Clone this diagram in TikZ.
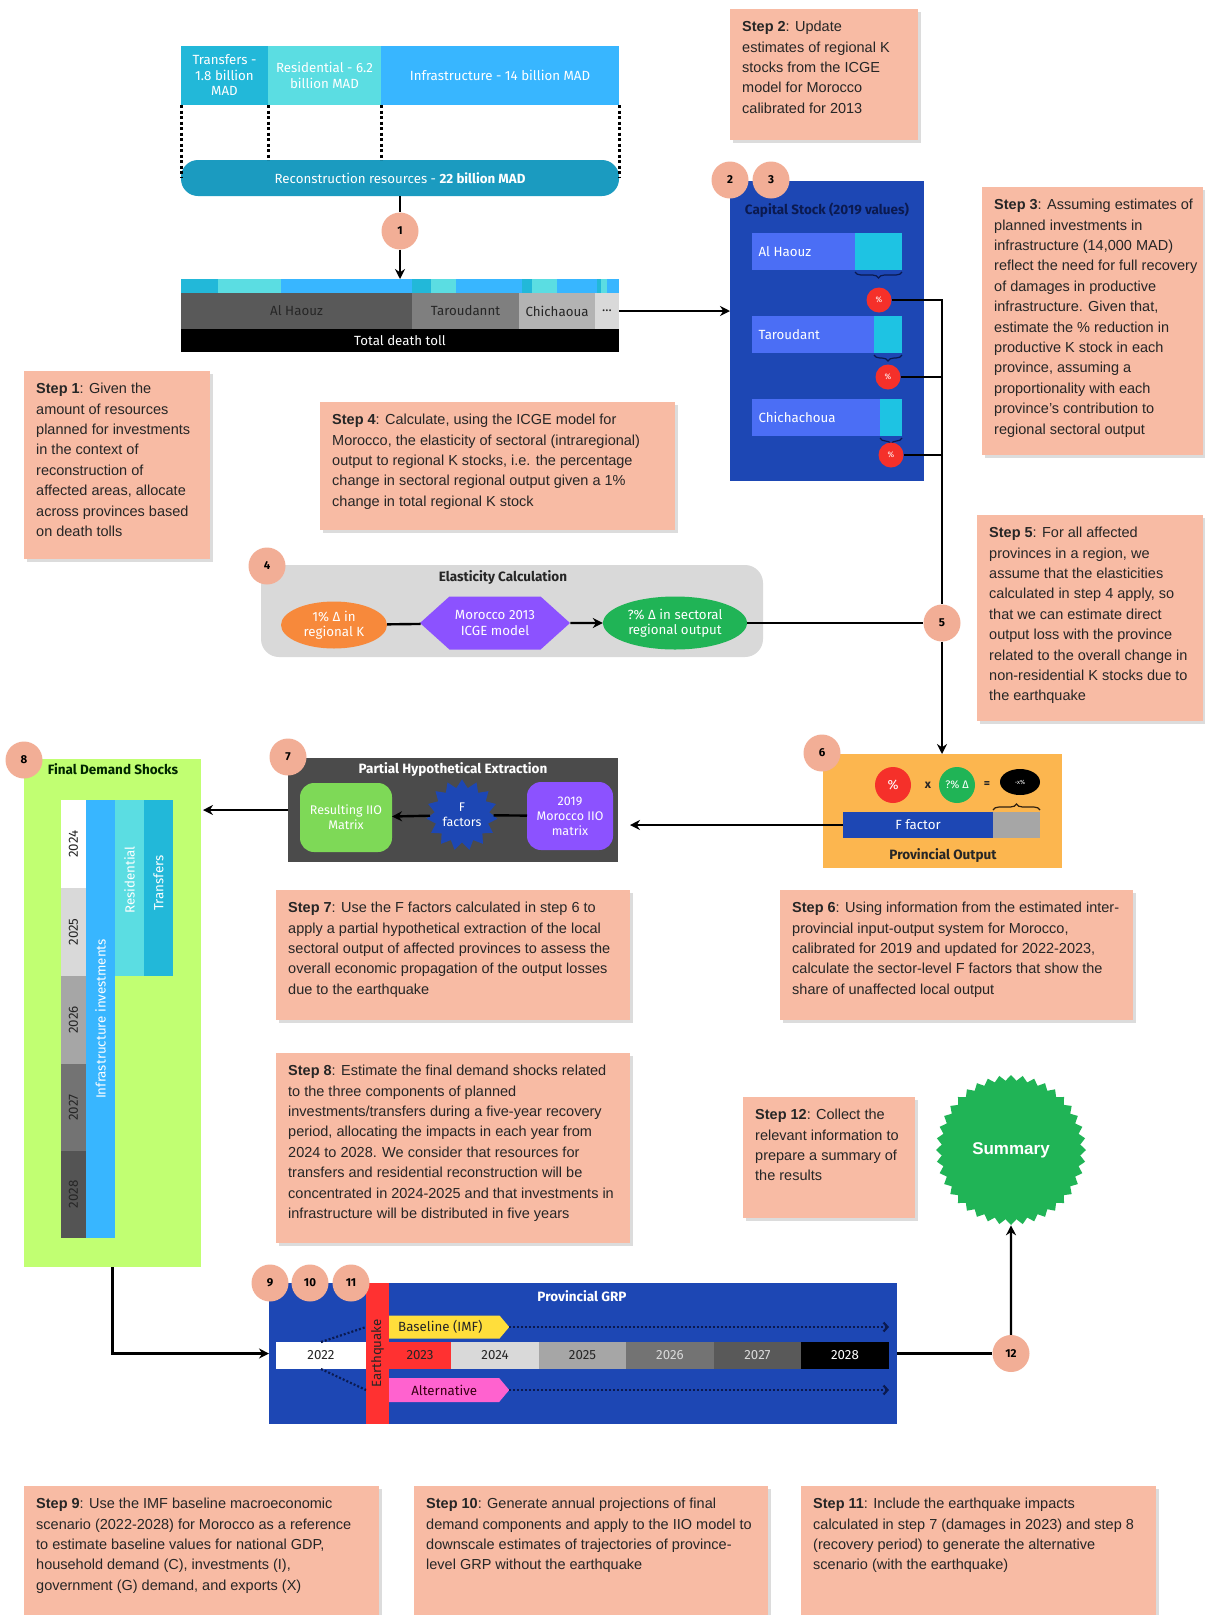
\documentclass[tikz,border=0pt]{standalone}
\usepackage{fontspec}
\setmainfont{Liberation Sans}
\newfontfamily\labfont{Fira Sans}
\usetikzlibrary{shapes.geometric,shapes.symbols,arrows.meta,decorations.pathreplacing,shadows,calc}
\definecolor{stepc}{HTML}{F8BBA4}
\definecolor{badgec}{HTML}{F2AE96}
\definecolor{transc}{HTML}{22B8D9}
\definecolor{resc}{HTML}{5BDDE2}
\definecolor{infrac}{HTML}{38B6FF}
\definecolor{pillc}{HTML}{1B9BC0}
\definecolor{royal}{HTML}{1D47B4}
\definecolor{navy}{HTML}{0B1A50}
\definecolor{barblue}{HTML}{4B6EF5}
\definecolor{barcyan}{HTML}{1EC3E3}
\definecolor{redc}{HTML}{F5302A}
\definecolor{gboxc}{HTML}{D9D9D9}
\definecolor{orangec}{HTML}{F7893B}
\definecolor{purplec}{HTML}{8C52FF}
\definecolor{greenc}{HTML}{20B456}
\definecolor{provc}{HTML}{FCB64F}
\definecolor{phec}{HTML}{4B4B4B}
\definecolor{limec}{HTML}{7ED957}
\definecolor{fdsc}{HTML}{C1FF72}
\definecolor{quakec}{HTML}{FF3131}
\definecolor{yellowc}{HTML}{FFDE3B}
\definecolor{pinkc}{HTML}{FF62CF}
\definecolor{textc}{HTML}{262626}
\definecolor{gA}{HTML}{595959}
\definecolor{gB}{HTML}{7F7F7F}
\definecolor{gC}{HTML}{B3B3B3}
\definecolor{gD}{HTML}{D9D9D9}
\definecolor{gE}{HTML}{A6A6A6}
\definecolor{gF}{HTML}{737373}
\definecolor{gG}{HTML}{545454}
\begin{document}
\begin{tikzpicture}[x=1pt,y=-1pt,
  R/.style n args={4}{rectangle, inner sep=0pt, outer sep=0pt, minimum width={#3-#1}, minimum height={#4-#2}, at={({(#1+#3)/2},{(#2+#4)/2})}},
  stepbox/.style={fill=stepc, drop shadow={shadow xshift=2.5pt, shadow yshift=-2.5pt, opacity=.3, fill=black!45}},
  steptext/.style={anchor=north west, align=left, inner sep=0pt, text=textc, font=\fontsize{14.5}{20.4}\selectfont},
  badge/.style={circle, fill=badgec, minimum size=37pt, inner sep=0pt, font=\labfont\bfseries\fontsize{11.5}{12}\selectfont, text=black},
  lab/.style={font=\labfont\fontsize{13.3}{15.5}\selectfont, align=center, text=white},
  dlab/.style={font=\labfont\fontsize{13.3}{15.5}\selectfont, align=center, text=textc},
  slab/.style={font=\labfont\fontsize{12.5}{15}\selectfont, align=center, text=white},
  titlef/.style={font=\labfont\bfseries\fontsize{13.5}{15}\selectfont},
  conn/.style={line width=2.4pt, black},
  arr/.style={conn, -{Stealth[length=10pt,width=10pt]}},
  pct/.style={circle, fill=redc, minimum size=25pt, inner sep=0pt, font=\labfont\fontsize{8}{9}\selectfont, text=white},
  dotline/.style={line width=3pt, black, dash pattern=on 3pt off 2.5pt},
  dotnavy/.style={line width=2.2pt, navy, dash pattern=on 2pt off 2pt},
  capbrace/.style={decorate, decoration={brace, mirror, amplitude=6pt}, line width=1.2pt, navy},
]
\useasboundingbox (0,0) rectangle (1205,1615);
\fill[white] (0,0) rectangle (1205,1615);

% ---------- step boxes ----------
\node[R={24}{371}{210}{559}, stepbox] (s1) {};
\node[steptext] (t1) at ([shift={(12,12)}]s1.north west) {\textbf{Step 1}: Given the\\amount of resources\\planned for investments\\in the context of\\reconstruction of\\affected areas, allocate\\across provinces based\\on death tolls};
\node[R={730}{9}{918}{140}, stepbox] (s2) {};
\node[steptext] (t2) at ([shift={(12,12)}]s2.north west) {\textbf{Step 2}: Update\\estimates of regional K\\stocks from the ICGE\\model for Morocco\\calibrated for 2013};
\node[R={982}{187}{1203}{455}, stepbox] (s3) {};
\node[steptext] (t3) at ([shift={(12,12)}]s3.north west) {\textbf{Step 3}: Assuming estimates of\\planned investments in\\infrastructure (14,000 MAD)\\reflect the need for full recovery\\of damages in productive\\infrastructure. Given that,\\estimate the \% reduction in\\productive K stock in each\\province, assuming a\\proportionality with each\\province's contribution to\\regional sectoral output};
\node[R={320}{402}{675}{530}, stepbox] (s4) {};
\node[steptext] (t4) at ([shift={(12,12)}]s4.north west) {\textbf{Step 4}: Calculate, using the ICGE model for\\Morocco, the elasticity of sectoral (intraregional)\\output to regional K stocks, i.e. the percentage\\change in sectoral regional output given a 1\%\\change in total regional K stock};
\node[R={977}{515}{1203}{721}, stepbox] (s5) {};
\node[steptext] (t5) at ([shift={(12,12)}]s5.north west) {\textbf{Step 5}: For all affected\\provinces in a region, we\\assume that the elasticities\\calculated in step 4 apply, so\\that we can estimate direct\\output loss with the province\\related to the overall change in\\non-residential K stocks due to\\the earthquake};
\node[R={780}{890}{1133}{1020}, stepbox] (s6) {};
\node[steptext] (t6) at ([shift={(12,12)}]s6.north west) {\textbf{Step 6}: Using information from the estimated inter-\\provincial input-output system for Morocco,\\calibrated for 2019 and updated for 2022-2023,\\calculate the sector-level F factors that show the\\share of unaffected local output};
\node[R={276}{890}{630}{1020}, stepbox] (s7) {};
\node[steptext] (t7) at ([shift={(12,12)}]s7.north west) {\textbf{Step 7}: Use the F factors calculated in step 6 to\\apply a partial hypothetical extraction of the local\\sectoral output of affected provinces to assess the\\overall economic propagation of the output losses\\due to the earthquake};
\node[R={276}{1053}{630}{1243}, stepbox] (s8) {};
\node[steptext] (t8) at ([shift={(12,12)}]s8.north west) {\textbf{Step 8}: Estimate the final demand shocks related\\to the three components of planned\\investments/transfers during a five-year recovery\\period, allocating the impacts in each year from\\2024 to 2028. We consider that resources for\\transfers and residential reconstruction will be\\concentrated in 2024-2025 and that investments in\\infrastructure will be distributed in five years};
\node[R={743}{1097}{915}{1218}, stepbox] (s12) {};
\node[steptext] (t12) at ([shift={(12,12)}]s12.north west) {\textbf{Step 12}: Collect the\\relevant information to\\prepare a summary of\\the results};
\node[R={24}{1486}{379}{1615}, stepbox] (s9) {};
\node[steptext] (t9) at ([shift={(12,12)}]s9.north west) {\textbf{Step 9}: Use the IMF baseline macroeconomic\\scenario (2022-2028) for Morocco as a reference\\to estimate baseline values for national GDP,\\household demand (C), investments (I),\\government (G) demand, and exports (X)};
\node[R={414}{1486}{768}{1615}, stepbox] (s10) {};
\node[steptext] (t10) at ([shift={(12,12)}]s10.north west) {\textbf{Step 10}: Generate annual projections of final\\demand components and apply to the IIO model to\\downscale estimates of trajectories of province-\\level GRP without the earthquake};
\node[R={801}{1486}{1156}{1615}, stepbox] (s11) {};
\node[steptext] (t11) at ([shift={(12,12)}]s11.north west) {\textbf{Step 11}: Include the earthquake impacts\\calculated in step 7 (damages in 2023) and step 8\\(recovery period) to generate the alternative\\scenario (with the earthquake)};

% ---------- top: resources ----------
\node[R={181}{46}{268}{105}, fill=transc, lab] (tr) {Transfers -\\1.8 billion\\MAD};
\node[R={268}{46}{381}{105}, fill=resc, lab] (re) {Residential - 6.2\\billion MAD};
\node[R={381}{46}{619}{105}, fill=infrac, lab] (in) {Infrastructure - 14 billion MAD};
\node[R={181}{160}{619}{196}, fill=pillc, rounded corners=17pt, lab] (pill) {Reconstruction resources - \textbf{22 billion MAD}};
\draw[dotline] (tr.south west) -- (tr.south west |- pill.west);
\draw[dotline] (tr.south east) -- (tr.south east |- pill.north);
\draw[dotline] (re.south east) -- (re.south east |- pill.north);
\draw[dotline] (in.south east) -- (in.south east |- pill.west);

% death toll
\fill[transc] (181,279) rectangle (218,293);
\fill[resc] (218,279) rectangle (281,293);
\fill[infrac] (281,279) rectangle (412,293);
\fill[transc] (412,279) rectangle (431,293);
\fill[resc] (431,279) rectangle (456,293);
\fill[infrac] (456,279) rectangle (522,293);
\fill[transc] (522,279) rectangle (532,293);
\fill[resc] (532,279) rectangle (557,293);
\fill[infrac] (557,279) rectangle (597,293);
\fill[transc] (597,279) rectangle (601,293);
\fill[resc] (601,279) rectangle (607,293);
\fill[infrac] (607,279) rectangle (619,293);
\node[R={181}{279}{619}{293}] (strip) {};
\node[R={181}{293}{412}{329}, fill=gA, dlab] (alh) {Al Haouz};
\node[R={412}{293}{519}{329}, fill=gB, dlab] (tar) {Taroudannt};
\node[R={519}{293}{595}{329}, fill=gC, dlab] (chi) {Chichaoua};
\node[R={595}{293}{619}{329}, fill=gD, dlab] (dots) {...};
\node[R={181}{329}{619}{352}, fill=black, lab] (tot) {Total death toll};

\node[badge] (b1) at (400,231) {1};
\draw[conn] (pill.south) -- (b1);
\draw[arr] (b1) -- (strip.north);

% ---------- capital stock ----------
\node[R={730}{181}{924}{481}, fill=royal] (cap) {};
\node[titlef, text=navy] (capt) at (827,210) {Capital Stock (2019 values)};
\node[badge] (b2) at (730,180) {2};
\node[badge] (b3) at (771,180) {3};
\draw[arr] (dots.east) -- (dots.east -| cap.west);
\node[R={752}{233}{855}{270}, fill=barblue] (ahb) {};
\node[R={855}{233}{902}{270}, fill=barcyan] (ahc) {};
\node[R={752}{316}{874}{353}, fill=barblue] (tab) {};
\node[R={874}{316}{902}{353}, fill=barcyan] (tac) {};
\node[R={752}{399}{880}{436}, fill=barblue] (chb) {};
\node[R={880}{399}{902}{436}, fill=barcyan] (chc) {};
\node[lab, anchor=west] (ahl) at ([xshift=3pt]ahb.west) {Al Haouz};
\node[lab, anchor=west] (tal) at ([xshift=3pt]tab.west) {Taroudant};
\node[lab, anchor=west] (chl) at ([xshift=3pt]chb.west) {Chichachoua};
\draw[capbrace] ([yshift=-2pt]ahc.south west) -- ([yshift=-2pt]ahc.south east);
\draw[capbrace] ([yshift=-2pt]tac.south west) -- ([yshift=-2pt]tac.south east);
\draw[capbrace] ([yshift=-2pt]chc.south west) -- ([yshift=-2pt]chc.south east);
\node[pct] (p1) at (879,300) {\%};
\node[pct] (p2) at (888,377) {\%};
\node[pct] (p3) at (891,455) {\%};

% ---------- elasticity ----------
\node[R={261}{565}{763}{657}, fill=gboxc, rounded corners=18pt] (elas) {};
\node[titlef, text=textc] (elt) at (503,578) {Elasticity Calculation};
\node[badge] (b4) at (267,566) {4};
\node[ellipse, fill=orangec, minimum width=106pt, minimum height=47pt, inner sep=0pt, lab] (e1) at (334,625) {1\% Δ in\\regional K};
\node[signal, signal to=west and east, signal pointer angle=84, fill=purplec, minimum width=150pt, minimum height=53pt, inner sep=0pt, lab] (e2) at (495,623) {Morocco 2013\\ICGE model};
\node[ellipse, fill=greenc, minimum width=144pt, minimum height=53pt, inner sep=0pt, lab] (e3) at (675,623) {?\% Δ in sectoral\\regional output};
\node[badge] (b5) at (942,623) {5};
\draw[conn] (e1) -- (e2);
\draw[arr] (e2) -- (e3);
\draw[conn] (e3) -- (b5);
\draw[conn] (p1) -- (p1 -| b5) -- (b5);
\draw[conn] (p2) -- (p2 -| b5);
\draw[conn] (p3) -- (p3 -| b5);

% ---------- provincial output ----------
\node[R={823}{754}{1062}{868}, fill=provc] (prov) {};
\node[badge] (b6) at (822,753) {6};
\draw[arr] (b5) -- (b5 |- prov.north);
\node[circle, fill=redc, minimum size=36pt, inner sep=0pt, lab] (pr) at (893,785) {\%};
\node[dlab, font=\labfont\bfseries\fontsize{12}{14}\selectfont] (px) at (928,785) {x};
\node[circle, fill=greenc, minimum size=36pt, inner sep=0pt, lab, font=\labfont\fontsize{11}{13}\selectfont] (pg) at (957,785) {?\% Δ};
\node[dlab, font=\labfont\bfseries\fontsize{12}{14}\selectfont] (peq) at (987,785) {=};
\node[ellipse, fill=black, minimum width=40pt, minimum height=26pt, inner sep=0pt, text=white, font=\labfont\fontsize{6}{7}\selectfont] (pres) at (1020,782) {-x\%};
\node[R={843}{812}{993}{838}, fill=royal, lab] (ff) {F factor};
\node[R={993}{812}{1040}{838}, fill=gE] (fg) {};
\draw[decorate, decoration={brace, amplitude=6pt}, line width=1.2pt, black!75!brown] ([yshift=2pt]fg.north west) -- ([yshift=2pt]fg.north east);
\node[titlef, text=textc] (pot) at (943,856) {Provincial Output};

% ---------- partial hypothetical extraction ----------
\node[R={288}{758}{618}{862}, fill=phec] (phe) {};
\node[badge] (b7) at (288,757) {7};
\node[titlef, text=white] (phet) at (453,770) {Partial Hypothetical Extraction};
\node[R={300}{783}{392}{852}, fill=limec, rounded corners=14pt, slab] (resm) {Resulting IIO\\Matrix};
\node[star, star points=15, star point ratio=1.3, fill=royal, minimum size=66pt, inner sep=0pt, slab] (fst) at (462,815) {F\\factors};
\node[R={527}{782}{613}{850}, fill=purplec, rounded corners=14pt, slab] (mat) {2019\\Morocco IIO\\matrix};
\draw[conn] (mat) -- (fst);
\draw[arr] (fst) -- (resm);
\draw[arr, shorten >=12pt] (ff.west) -- (ff.west -| phe.east);

% ---------- final demand shocks ----------
\node[R={24}{759}{201}{1267}, fill=fdsc] (fds) {};
\node[badge] (b8) at (24,760) {8};
\node[titlef, text=black!85!green] (fdst) at (113,769) {Final Demand Shocks};
\draw[arr, shorten >=2pt] (phe.west) -- (phe.west -| fds.east);
\node[R={61}{800}{86}{888}, fill=white] (y1) {};
\node[R={61}{888}{86}{976}, fill=gD] (y2) {};
\node[R={61}{976}{86}{1064}, fill=gE] (y3) {};
\node[R={61}{1064}{86}{1151}, fill=gF] (y4) {};
\node[R={61}{1151}{86}{1238}, fill=gG] (y5) {};
\node[dlab, rotate=90] at (y1.center) {2024};
\node[dlab, rotate=90] at (y2.center) {2025};
\node[dlab, rotate=90] at (y3.center) {2026};
\node[dlab, rotate=90] at (y4.center) {2027};
\node[dlab, rotate=90] at (y5.center) {2028};
\node[R={86}{800}{115}{1238}, fill=infrac] (fi) {};
\node[R={115}{800}{144}{976}, fill=resc] (fr) {};
\node[R={144}{800}{173}{976}, fill=transc] (ft) {};
\node[lab, rotate=90] at (fi.center) {Infrastructure investments};
\node[lab, rotate=90] at ([yshift=8pt]fr.center) {Residential};
\node[lab, rotate=90] at ([yshift=5pt]ft.center) {Transfers};

% ---------- provincial GRP ----------
\node[R={269}{1283}{897}{1424}, fill=royal] (grp) {};
\node[R={366}{1283}{389}{1424}, fill=quakec] (qk) {};
\node[dlab, rotate=90] at (qk.center) {Earthquake};
\node[badge] (b9) at (270,1283) {9};
\node[badge] (b10) at (310,1283) {10};
\node[badge] (b11) at (351,1283) {11};
\node[titlef, text=white] (grpt) at (582,1296) {Provincial GRP};
\node[R={276}{1342}{366}{1369}, fill=white, dlab] (y22) {2022};
\node[R={389}{1342}{451}{1369}, fill=quakec, dlab] (y23) {2023};
\node[R={451}{1342}{539}{1369}, fill=gD, dlab] (y24) {2024};
\node[R={539}{1342}{626}{1369}, fill=gE, dlab] (y25) {2025};
\node[R={626}{1342}{714}{1369}, fill=gF, lab, text=gD] (y26) {2026};
\node[R={714}{1342}{801}{1369}, fill=gA, lab, text=gD] (y27) {2027};
\node[R={801}{1342}{889}{1369}, fill=black, lab] (y28) {2028};
\node[signal, signal to=east, signal pointer angle=100, fill=yellowc, minimum width=120pt, minimum height=23pt, inner sep=0pt, anchor=west, dlab] (base) at (389,1327) {Baseline (IMF)\hspace{8pt}};
\node[signal, signal to=east, signal pointer angle=100, fill=pinkc, minimum width=120pt, minimum height=24pt, inner sep=0pt, anchor=west, dlab, text=black!70!purple] (alt) at (389,1390) {Alternative};
\draw[dotnavy, -{Straight Barb[length=4pt,width=9pt]}] (base.east) -- (base.east -| y28.east);
\draw[dotnavy, -{Straight Barb[length=4pt,width=9pt]}] (alt.east) -- (alt.east -| y28.east);
\draw[dotnavy] (y22.north) -- (qk.west |- base.west);
\draw[dotnavy] (y22.south) -- (qk.west |- alt.west);

\draw[arr] (fds.south) |- (grp.west);

% ---------- summary ----------
\node[star, star points=40, star point ratio=1.08, fill=greenc, minimum size=150pt, inner sep=0pt, text=white, font=\bfseries\fontsize{17}{20}\selectfont] (sum) at (1011,1150) {Summary};
\node[badge] (b12) at (1011,1353.5) {12};
\draw[conn] (grp.east) -- (b12);
\draw[arr] (b12) -- (sum);
\end{tikzpicture}
\end{document}
